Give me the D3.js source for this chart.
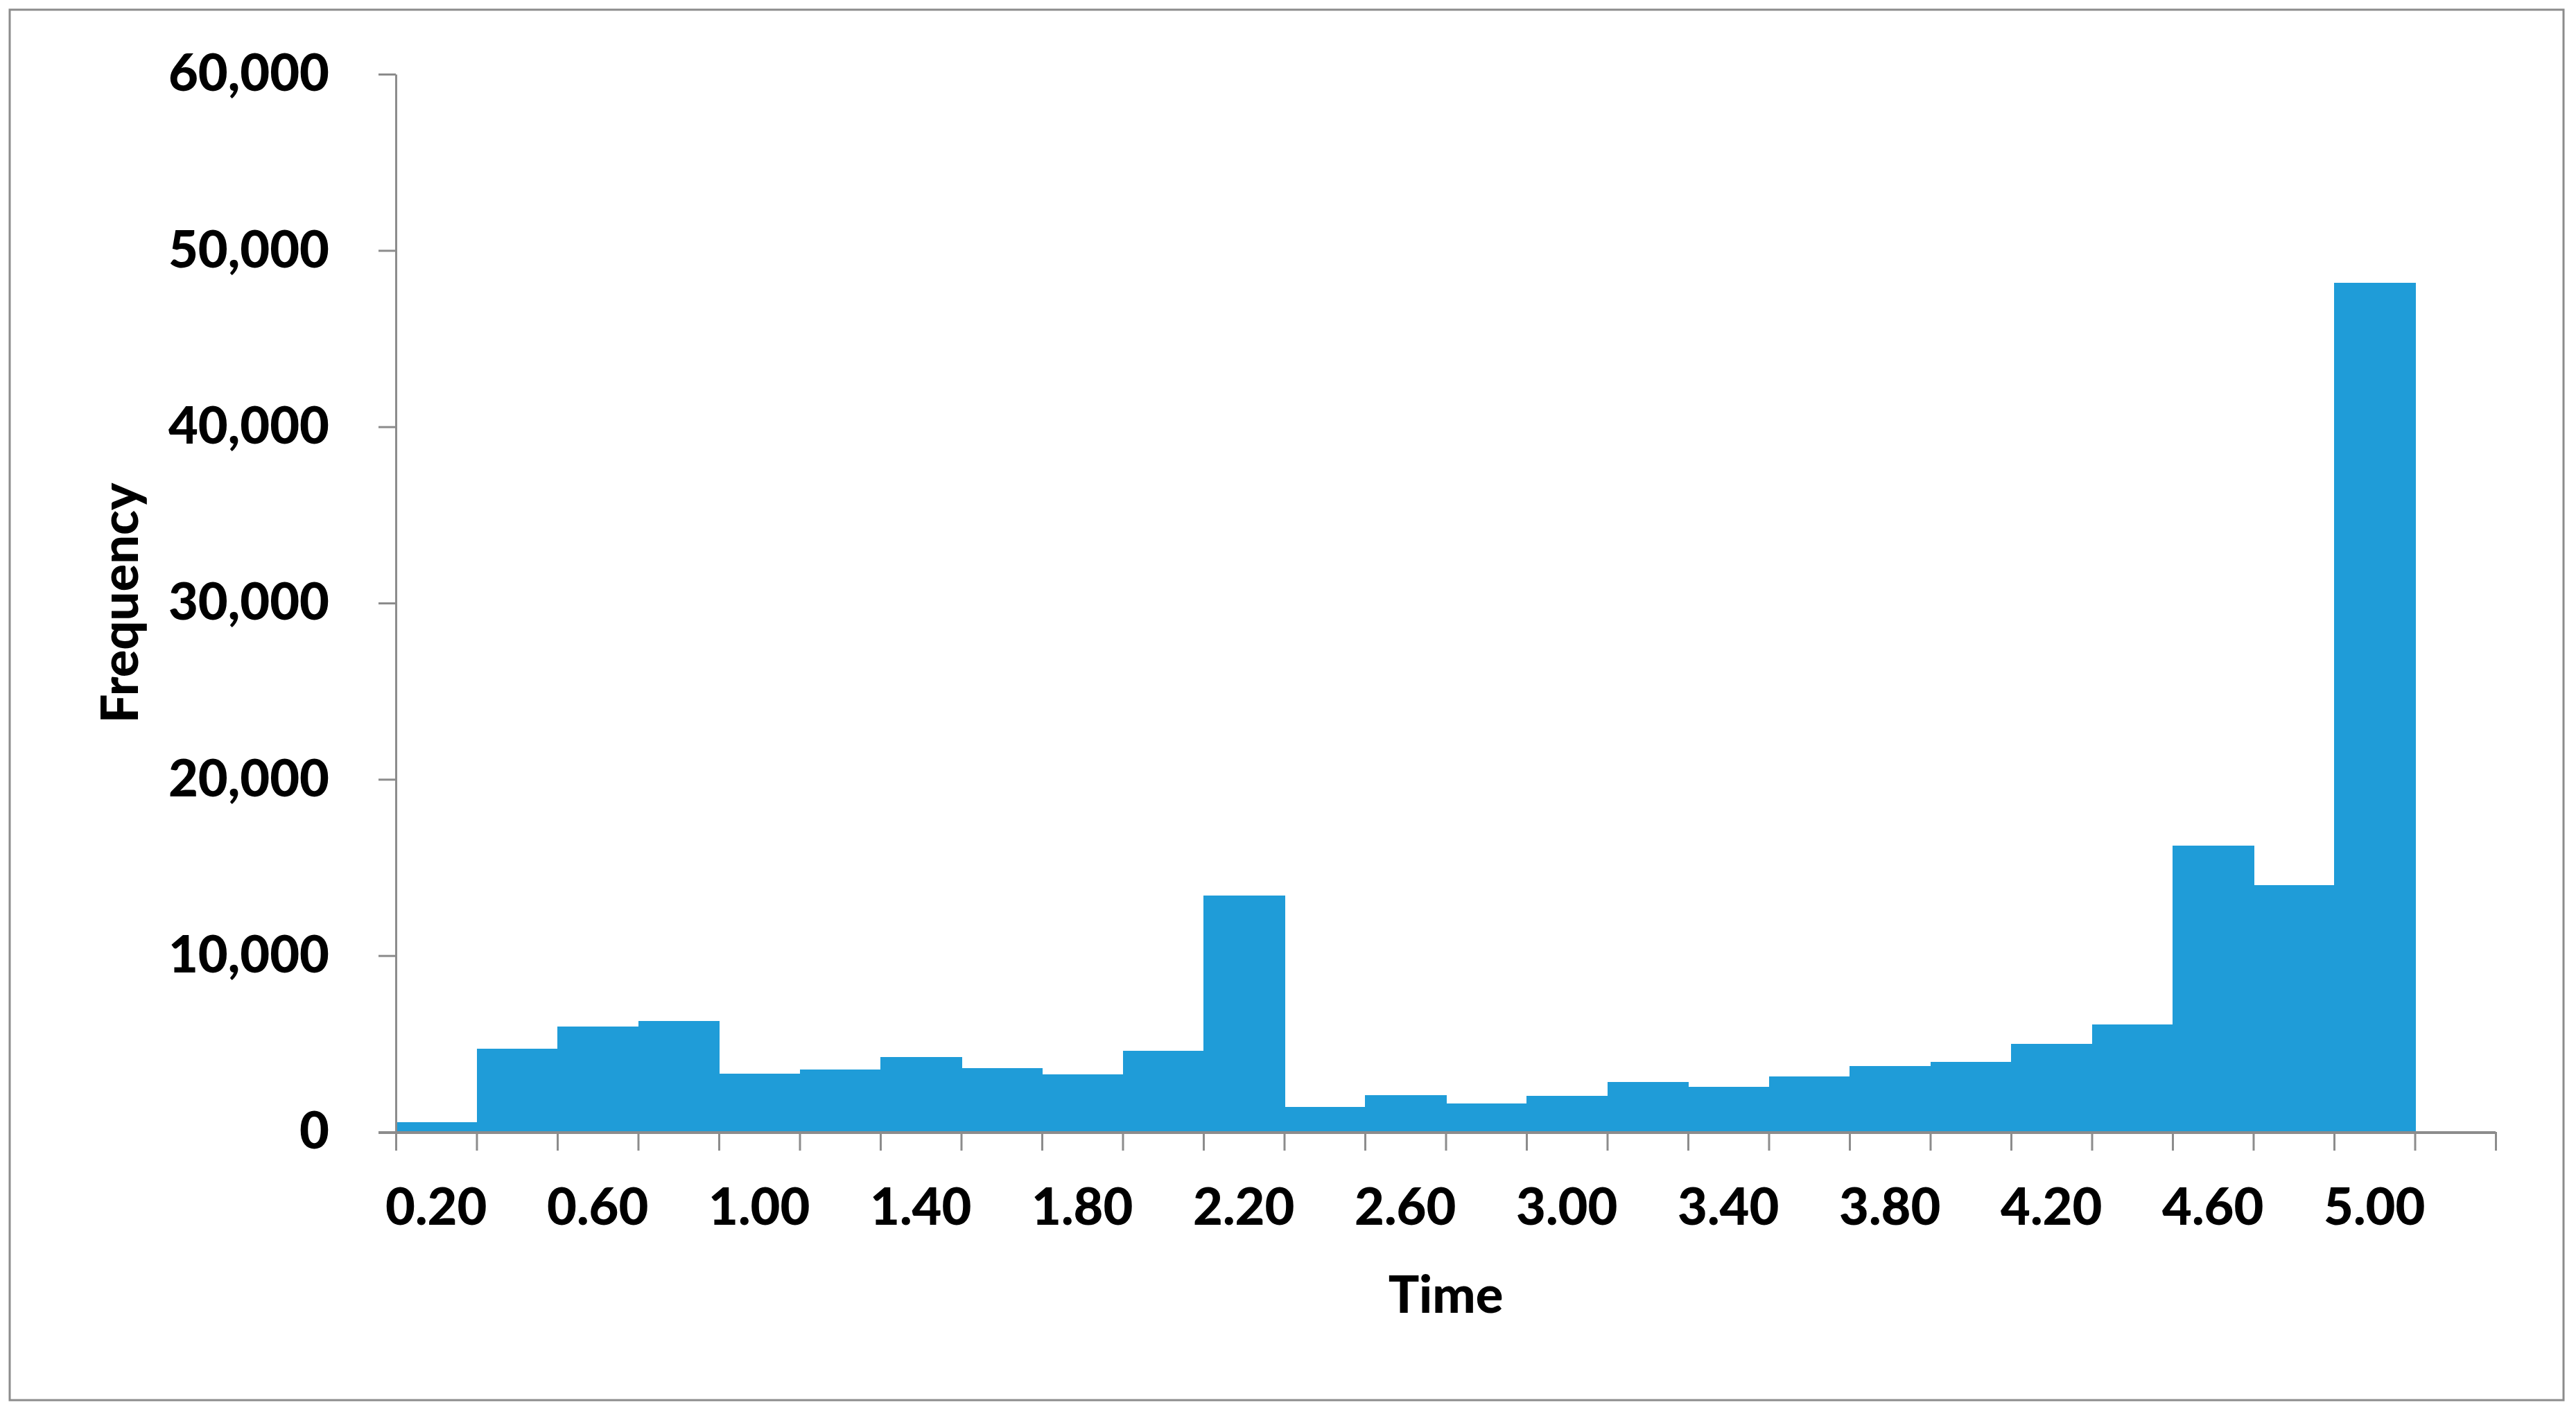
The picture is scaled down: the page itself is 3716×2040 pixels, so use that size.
<!DOCTYPE html>
<html>
<head>
<meta charset="utf-8">
<script src="https://cdn.jsdelivr.net/npm/d3@7"></script>
<style>
  html, body { margin: 0; padding: 0; background: #ffffff; }
  svg { display: block; }
  text { font-family: Lato, "Open Sans", sans-serif; font-weight: 900; fill: #000; }
</style>
</head>
<body>
<svg id="chart" width="3716" height="2040"></svg>
<script>
// ---- data ----
const categories = ["0.20","0.40","0.60","0.80","1.00","1.20","1.40","1.60","1.80","2.00",
                    "2.20","2.40","2.60","2.80","3.00","3.20","3.40","3.60","3.80","4.00",
                    "4.20","4.40","4.60","4.80","5.00","More"];
const frequencies = [540, 4710, 5980, 6290, 3300, 3530, 4250, 3600, 3280, 4590,
                     13410, 1400, 2070, 1600, 2040, 2820, 2540, 3150, 3730, 3980,
                     4980, 6110, 16220, 14010, 48150, 0];
const yTicks = [0, 10000, 20000, 30000, 40000, 50000, 60000];
const xLabelEvery = 2;
const xTitle = "Time";
const yTitle = "Frequency";

(function () {
// ---- layout ----
const mLeft = 571, mRight = 3600, mTop = 107, mBottom = 1633;
const axisColor = "#8c8c8c";
const barColor = "#1f9cd8";
const fontSize = 74;

const svg = d3.select("#chart");

// outer border
svg.append("rect")
  .attr("x", 14).attr("y", 14)
  .attr("width", 3698 - 14).attr("height", 2020 - 14)
  .attr("fill", "#fff").attr("stroke", axisColor).attr("stroke-width", 3);

const x = d3.scaleBand().domain(categories).range([mLeft, mRight]).paddingInner(0).paddingOuter(0);
const xEdge = d3.scaleLinear().domain([0, categories.length]).range([mLeft, mRight]);
const y = d3.scaleLinear().domain([0, 60000]).range([mBottom, mTop]);

// bars
svg.append("g").attr("shape-rendering", "crispEdges").selectAll("rect")
  .data(categories.map((c, i) => ({c, v: frequencies[i]})))
  .join("rect")
  .attr("x", d => x(d.c))
  .attr("y", d => y(d.v))
  .attr("width", x.bandwidth() + 1)
  .attr("height", d => y(0) - y(d.v))
  .attr("fill", barColor);

// y axis
const yAxis = svg.append("g")
  .attr("transform", `translate(${mLeft},0)`)
  .call(d3.axisLeft(y).tickValues(yTicks).tickFormat(d3.format(",")).tickSizeInner(25).tickSizeOuter(0).tickPadding(71));
yAxis.select(".domain").attr("stroke", axisColor).attr("stroke-width", 3);
yAxis.selectAll(".tick line").attr("stroke", axisColor).attr("stroke-width", 3);
yAxis.selectAll(".tick text").attr("font-size", fontSize).attr("font-family", "Lato").attr("font-weight", 900).attr("fill", "#000");

// x axis ticks at bin edges
const xAxis = svg.append("g")
  .attr("transform", `translate(0,${mBottom})`)
  .call(d3.axisBottom(xEdge).tickValues(d3.range(categories.length + 1)).tickFormat("").tickSizeInner(27).tickSizeOuter(0));
xAxis.select(".domain").remove();
xAxis.selectAll(".tick line").attr("stroke", axisColor).attr("stroke-width", 3);
svg.append("line")
  .attr("x1", mLeft - 25).attr("x2", mRight)
  .attr("y1", mBottom + 1).attr("y2", mBottom + 1)
  .attr("stroke", axisColor).attr("stroke-width", 4);

// x labels
svg.append("g").selectAll("text")
  .data(categories.filter((c, i) => i % xLabelEvery === 0))
  .join("text")
  .attr("x", d => x(d) + x.bandwidth() / 2)
  .attr("y", 1767)
  .attr("text-anchor", "middle")
  .attr("font-size", fontSize)
  .text(d => d);

// titles
svg.append("text")
  .attr("x", (mLeft + mRight) / 2).attr("y", 1894)
  .attr("text-anchor", "middle").attr("font-size", fontSize)
  .text(xTitle);
svg.append("text")
  .attr("transform", `translate(199,${(mTop + mBottom) / 2}) rotate(-90)`)
  .attr("text-anchor", "middle").attr("font-size", fontSize)
  .text(yTitle);
})();
</script>
</body>
</html>
